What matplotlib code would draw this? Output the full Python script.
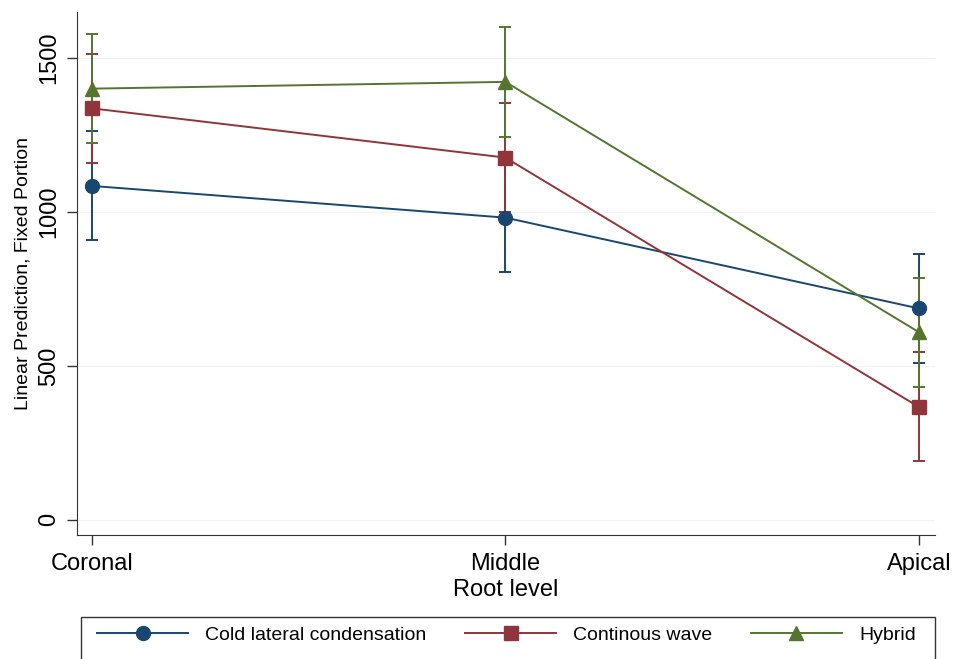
import matplotlib
matplotlib.use("Agg")
import matplotlib.pyplot as plt
from matplotlib.lines import Line2D
from matplotlib.patches import Rectangle

categories = ["Coronal", "Middle", "Apical"]
series_names = ["Cold lateral condensation", "Continous wave", "Hybrid"]
cold_mean = [1085, 982, 687]
cold_lo = [908, 806, 510]
cold_hi = [1263, 1158, 864]
cw_mean = [1337, 1177, 367]
cw_lo = [1159, 1000, 190]
cw_hi = [1515, 1355, 545]
hyb_mean = [1401, 1423, 610]
hyb_lo = [1223, 1245, 431]
hyb_hi = [1579, 1600, 786]
yticks = [0, 500, 1000, 1500]

colors = ["#1a476f", "#90353b", "#55752f"]
markers = ["o", "s", "^"]

plt.rcParams['font.family'] = ['Liberation Sans', 'DejaVu Sans']

W, H = 960, 659
fig = plt.figure(figsize=(9.6, 6.59), dpi=100)
ax = fig.add_axes([77/W, 1-535/H, (935-77)/W, (535-12)/H])

x = list(range(len(categories)))
data = [(cold_mean, cold_lo, cold_hi), (cw_mean, cw_lo, cw_hi), (hyb_mean, hyb_lo, hyb_hi)]
handles = []
for (m, lo, hi), c, mk, name in zip(data, colors, markers, series_names):
    yerr = [[mi - l for mi, l in zip(m, lo)], [h - mi for mi, h in zip(m, hi)]]
    ax.errorbar(x, m, yerr=yerr, color=c, ecolor=c, elinewidth=1.4, capsize=4.3,
                capthick=1.4, linestyle='none', zorder=2)
    ax.plot(x, m, color=c, linewidth=1.4, marker=mk, markersize=10, zorder=3)
    handles.append(Line2D([0], [0], color=c, linewidth=1.4, marker=mk, markersize=10))

ax.set_xlim(-0.036, 2.039)
ax.set_ylim(-49, 1650)
ax.set_xticks(x)
ax.set_xticklabels(categories, fontsize=17)
ax.set_yticks(yticks)
ax.set_yticklabels([str(v) for v in yticks], fontsize=17, rotation=90, va='center')
for t in yticks:
    ax.axhline(t, color="#f2f2f2", linewidth=0.8, zorder=0)
ax.spines['top'].set_visible(False)
ax.spines['right'].set_visible(False)
ax.spines['left'].set_color('#333333')
ax.spines['bottom'].set_color('#333333')
ax.tick_params(axis='both', direction='out', length=7, width=1, color='#333333')
ax.tick_params(axis='x', pad=6)
ax.tick_params(axis='y', pad=5)
ax.set_xlabel("Root level", fontsize=17)
ax.xaxis.set_label_coords(0.5, -(579 - 535) / 523)
ax.set_ylabel("Linear Prediction, Fixed Portion", fontsize=14)
ax.yaxis.set_label_coords(-(77 - 32) / 858, 0.5)

# legend frame (extends past the bottom of the figure, as in the reference)
fig.patches.append(Rectangle((81/W, -0.05), (935-81)/W, (1-617/H) + 0.05,
                             transform=fig.transFigure, fill=False,
                             edgecolor='#333333', linewidth=1.0))
leg = fig.legend(handles, series_names, loc='center left',
                 bbox_to_anchor=(97/W, 1-635/H), borderaxespad=0, borderpad=0,
                 ncol=3, fontsize=14, handlelength=4.68, handletextpad=0.87,
                 columnspacing=2.0, frameon=False)

fig.savefig("out.png", dpi=100)
